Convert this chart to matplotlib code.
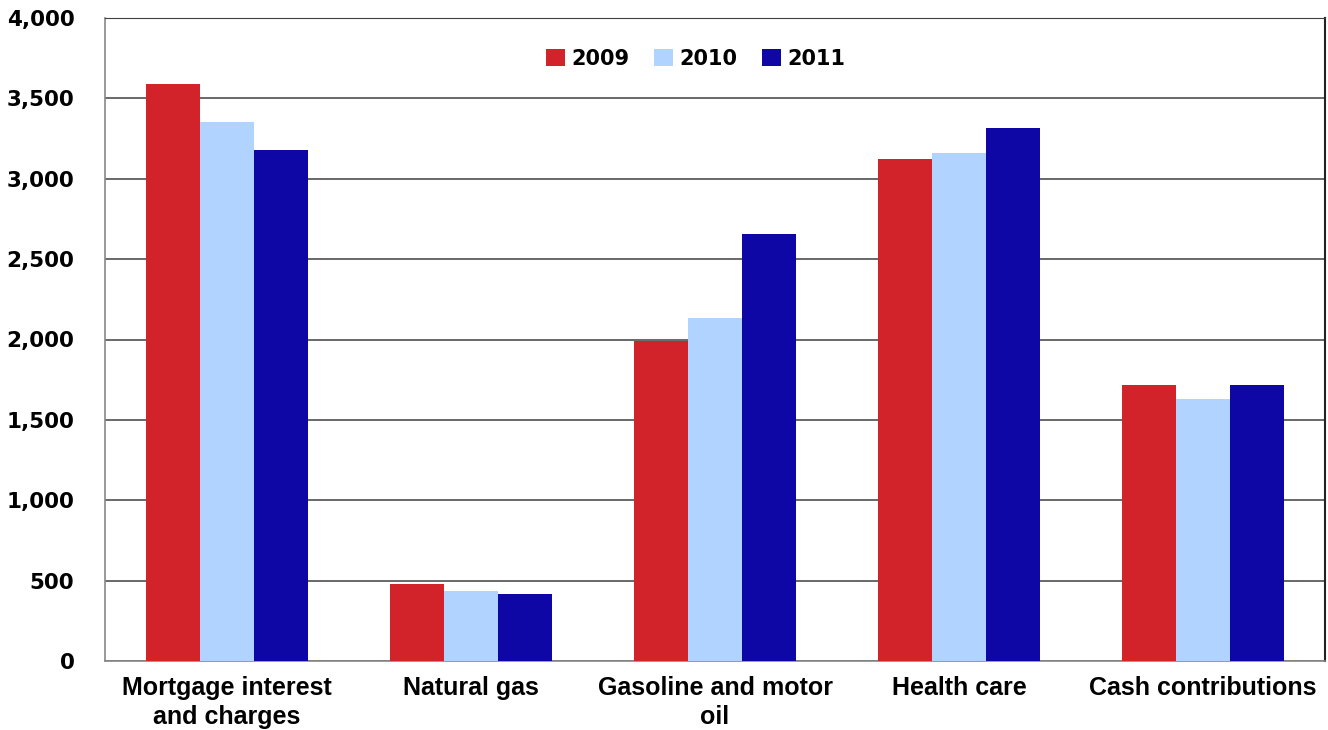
import matplotlib
matplotlib.use("Agg")
import matplotlib.pyplot as plt
import numpy as np

categories = ["Mortgage interest\nand charges", "Natural gas", "Gasoline and motor\noil", "Health care", "Cash contributions"]
years = ["2009", "2010", "2011"]
v2009 = [3590, 480, 1990, 3125, 1720]
v2010 = [3350, 435, 2135, 3160, 1630]
v2011 = [3180, 415, 2655, 3315, 1720]
yticks = [0, 500, 1000, 1500, 2000, 2500, 3000, 3500, 4000]
ytick_labels = ["0", "500", "1,000", "1,500", "2,000", "2,500", "3,000", "3,500", "4,000"]

colors = ["#D2232A", "#B0D4FF", "#0F07A5"]

fig = plt.figure(figsize=(13.28, 7.30), dpi=100)
ax = fig.add_axes([105/1328, 1-661/730, 1220/1328, 643/730])

x = np.arange(len(categories))
w = 0.222
for i, (vals, c, lab) in enumerate(zip([v2009, v2010, v2011], colors, years)):
    ax.bar(x + (i-1)*w, vals, width=w, color=c, label=lab, zorder=3, linewidth=0)

ax.set_xlim(-0.5, len(categories)-0.5)
ax.set_ylim(0, 4000)
ax.set_yticks(yticks)
ax.set_yticklabels(ytick_labels, fontsize=15.5, fontweight="bold", family="DejaVu Sans")
ax.set_xticks(x)
ax.set_xticklabels(categories, fontsize=18, fontweight="bold", family="Liberation Sans",
                   linespacing=1.25)
ax.tick_params(axis="y", length=0, pad=22)
ax.tick_params(axis="x", length=0, pad=11)
ax.yaxis.grid(True, color="#404040", linewidth=1.1, zorder=0)
ax.set_axisbelow(True)
for s in ["left", "bottom"]:
    ax.spines[s].set_color("#888888")
    ax.spines[s].set_linewidth(1.2)
ax.spines["top"].set_color("#404040")
ax.spines["right"].set_color("#222222")
ax.spines["right"].set_linewidth(1.5)

leg = ax.legend(loc="center", bbox_to_anchor=(0.484, 0.937), ncol=3, frameon=False,
                prop={"family": "DejaVu Sans", "weight": "bold", "size": 15},
                handlelength=0.9, handleheight=0.9, handletextpad=0.3, columnspacing=1.2)

fig.savefig("out.png", dpi=100)
